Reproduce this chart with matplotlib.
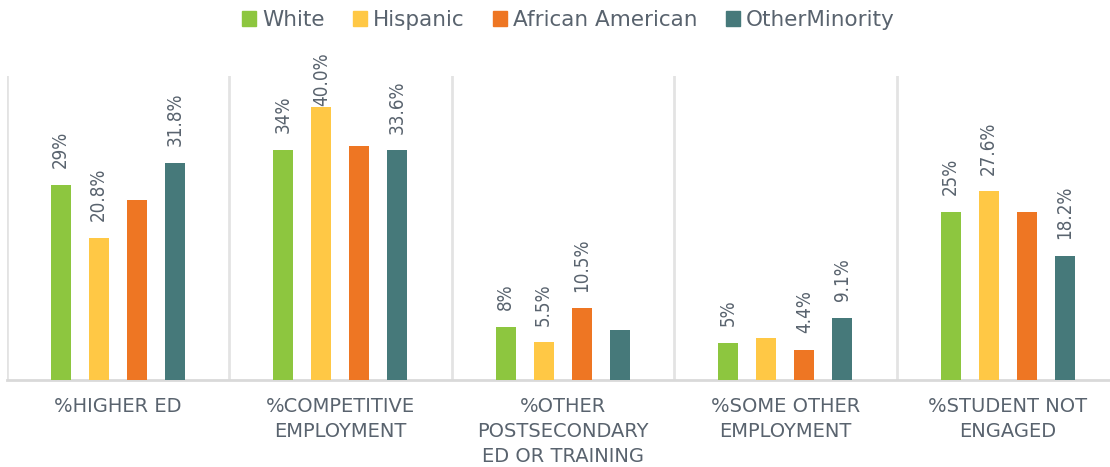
import matplotlib
matplotlib.use("Agg")
import matplotlib.pyplot as plt
import numpy as np
from matplotlib.patches import Patch
from matplotlib import font_manager

categories = ["%HIGHER ED", "%COMPETITIVE\nEMPLOYMENT", "%OTHER\nPOSTSECONDARY\nED OR TRAINING",
              "%SOME OTHER\nEMPLOYMENT", "%STUDENT NOT\nENGAGED"]
series_names = ["White", "Hispanic", "African American", "OtherMinority"]
white = [28.6, 33.7, 7.8, 5.4, 24.6]
hispanic = [20.8, 40.0, 5.5, 6.1, 27.6]
african_american = [26.3, 34.3, 10.5, 4.4, 24.6]
other_minority = [31.8, 33.6, 7.3, 9.1, 18.2]
white_labels = ["29%", "34%", "8%", "5%", "25%"]
hispanic_labels = ["20.8%", "40.0%", "5.5%", None, "27.6%"]
african_american_labels = [None, None, "10.5%", "4.4%", None]
other_minority_labels = ["31.8%", "33.6%", None, "9.1%", "18.2%"]

colors = ["#8DC63F", "#FFC845", "#EE7623", "#46797A"]
text_color = "#59636E"

plt.rcParams['font.family'] = ['DejaVu Sans']

names = {f.name for f in font_manager.fontManager.ttflist}
if "Liberation Sans Narrow" in names:
    lab_font = dict(family=["Liberation Sans Narrow", "DejaVu Sans"], fontsize=16.5)
else:
    lab_font = dict(family=["DejaVu Sans"], fontsize=13.5, fontstretch="condensed")

fig = plt.figure(figsize=(11.10, 4.67), dpi=100)
ax = fig.add_axes([6.5 / 1110, 87 / 467, 1112.5 / 1110, 304 / 467])

x = np.arange(len(categories))
step = 0.171
width = 0.09
all_vals = [white, hispanic, african_american, other_minority]
all_labels = [white_labels, hispanic_labels, african_american_labels, other_minority_labels]

annots = []
for i, (vals, labs) in enumerate(zip(all_vals, all_labels)):
    pos = x + (i - 1.5) * step
    ax.bar(pos, vals, width=width, color=colors[i], label=series_names[i], zorder=3)
    for p, v, l in zip(pos, vals, labs):
        if l is not None:
            a = ax.annotate(l, (p, v), xytext=(0, 12), textcoords="offset points",
                            rotation=90, ha="center", va="bottom",
                            color=text_color, **lab_font)
            annots.append(a)

ax.set_xlim(-0.5, 4.5)
ax.set_ylim(0, 44.5)
for b in np.arange(-0.5, 5.0, 1.0):
    ax.axvline(b, color="#E3E3E3", lw=2, zorder=1)

for s in ["top", "right", "left"]:
    ax.spines[s].set_visible(False)
ax.spines["bottom"].set_color("#D9D9D9")
ax.spines["bottom"].set_linewidth(2)
ax.set_yticks([])
ax.set_xticks(x)
ax.set_xticklabels(categories, fontsize=14, color=text_color, linespacing=1.42)
ax.tick_params(axis="x", length=0, pad=12)

handles = [Patch(color=c) for c in colors]
fig.legend(handles, series_names, loc="center", bbox_to_anchor=(0.512, 1 - 20 / 467),
           ncol=4, frameon=False, fontsize=15.5, labelcolor=text_color,
           handlelength=0.65, handleheight=0.65, handletextpad=0.3, columnspacing=1.3)

# keep data labels inside the chart area (push down if too high)
fig.canvas.draw()
renderer = fig.canvas.get_renderer()
top_limit = 467 - 52
for a in annots:
    bb = a.get_window_extent(renderer)
    if bb.y1 > top_limit:
        shift_pt = (bb.y1 - top_limit) * 72 / fig.dpi
        ox, oy = a.xyann
        a.xyann = (ox, oy - shift_pt)

fig.savefig("out.png", dpi=100)
